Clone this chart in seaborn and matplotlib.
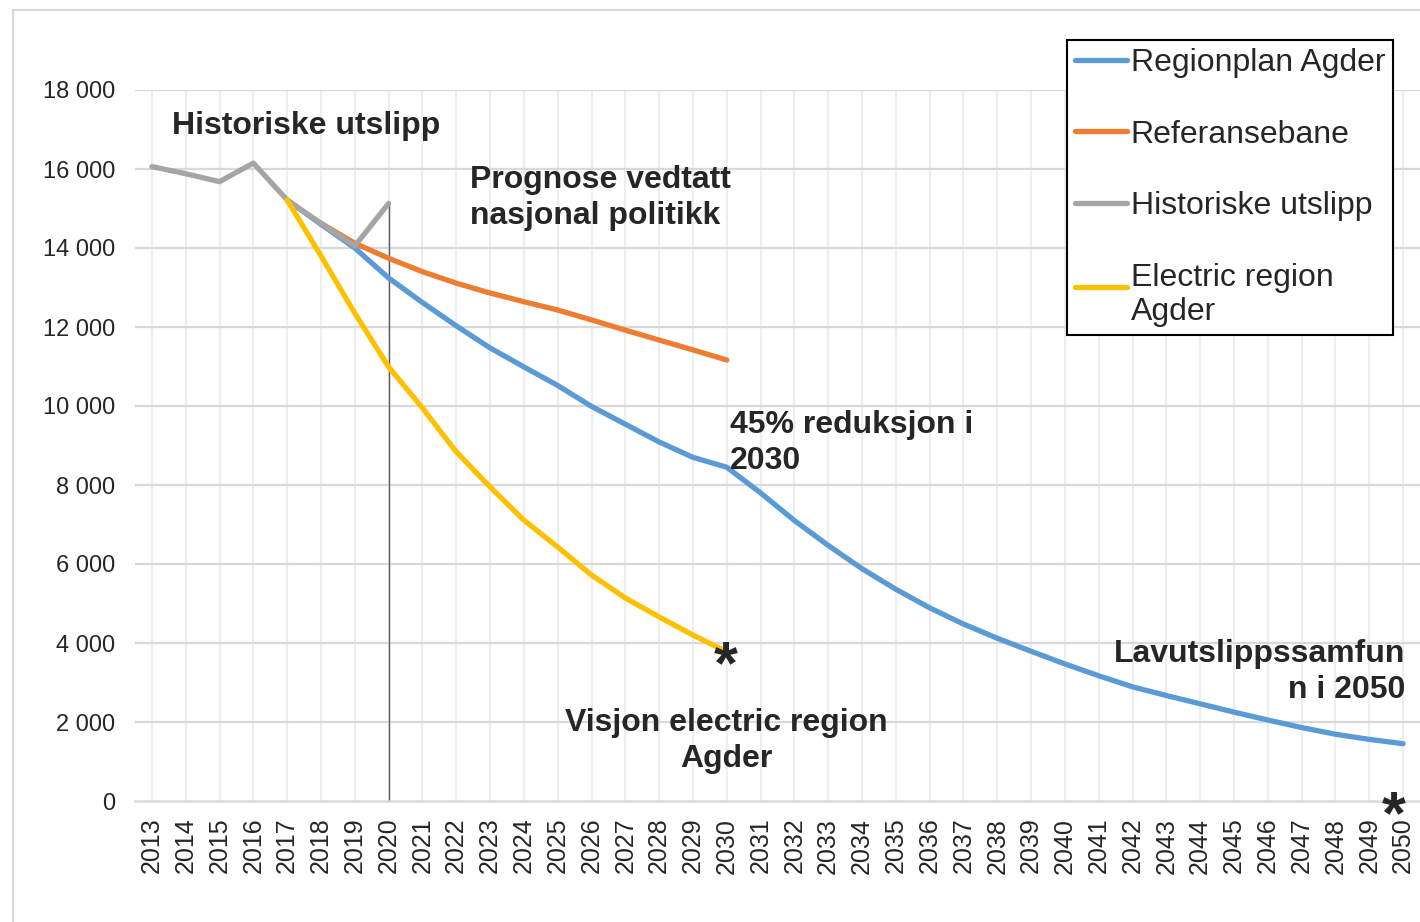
import matplotlib
matplotlib.use("Agg")
import matplotlib.pyplot as plt
from matplotlib.lines import Line2D
from matplotlib.legend_handler import HandlerLine2D
import seaborn as sns
import pandas as pd

# ---------------- data ----------------
years_hist = [2013, 2014, 2015, 2016, 2017, 2018, 2019, 2020]
hist = [16060, 15880, 15680, 16150, 15215, 14625, 14050, 15130]

years_ref = list(range(2018, 2031))
ref = [14625, 14120, 13740, 13400, 13110, 12860, 12640, 12430, 12180, 11920,
       11670, 11420, 11165]

years_plan = list(range(2017, 2051))
plan = [15215, 14600, 14000, 13240, 12620, 12030, 11470, 10990, 10520, 9990,
        9540, 9090, 8700, 8450, 7800, 7100, 6470, 5880, 5360, 4890,
        4480, 4120, 3790, 3470, 3170, 2890, 2670, 2460, 2250, 2050,
        1860, 1690, 1560, 1450]

years_el = list(range(2017, 2031))
electric = [15215, 13800, 12350, 10990, 9950, 8840, 7950, 7110, 6430, 5720,
            5140, 4660, 4200, 3780]

series_names = ["Regionplan Agder", "Referansebane", "Historiske utslipp",
                "Electric region Agder"]
legend_labels = ["Regionplan Agder", "Referansebane", "Historiske utslipp",
                 "Electric region\nAgder"]
colors = ["#5B9BD5", "#ED7D31", "#A5A5A5", "#FFC000"]

all_years = list(range(2013, 2051))
y_ticks = list(range(0, 18001, 2000))
y_ticklabels = [f"{v:,}".replace(",", " ") for v in y_ticks]

# ---------------- figure ----------------
sns.set_style("white")
plt.rcParams["font.family"] = ["Liberation Sans", "DejaVu Sans"]

W, H = 1420, 922
fig = plt.figure(figsize=(W / 100, H / 100), dpi=100)
ax = fig.add_axes([135 / W, 1 - 801 / H, 1285 / W, 711 / H])

df = pd.concat([
    pd.DataFrame({"year": years_plan, "value": plan, "series": series_names[0]}),
    pd.DataFrame({"year": years_ref, "value": ref, "series": series_names[1]}),
    pd.DataFrame({"year": years_hist, "value": hist, "series": series_names[2]}),
    pd.DataFrame({"year": years_el, "value": electric, "series": series_names[3]}),
])

palette = dict(zip(series_names, colors))
for name in series_names:
    sub = df[df["series"] == name]
    sns.lineplot(data=sub, x="year", y="value", color=palette[name],
                 linewidth=3.8, ax=ax, sort=False, legend=False,
                 solid_capstyle="round", solid_joinstyle="round", zorder=3)

# vertical marker line at the last historical year
ax.vlines(years_hist[-1], 0, hist[-1], color="#595959", linewidth=1.0, zorder=2)

ax.set_xlim(2012.5, 2050.5)
ax.set_ylim(0, 18000)
ax.set_xticks(all_years)
ax.set_xticklabels([str(y) for y in all_years], rotation=90, fontsize=18)
ax.set_yticks(y_ticks)
ax.set_yticklabels(y_ticklabels, fontsize=17)
ax.tick_params(axis="both", length=0)
ax.tick_params(axis="x", pad=12)
ax.tick_params(axis="y", pad=14)
ax.set_xlabel("")
ax.set_ylabel("")

# grid
for y in y_ticks[1:]:
    ax.axhline(y, color="#d9d9d9", linewidth=1.6, zorder=1)
for x in all_years:
    ax.axvline(x, color="#eeeeee", linewidth=1.6, zorder=0.5)
for s in ["left", "right", "top"]:
    ax.spines[s].set_visible(False)
ax.spines["bottom"].set_color("#d9d9d9")
ax.spines["bottom"].set_linewidth(1.8)

# annotations
def ftxt(px, py, s, **kw):
    fig.text(px / W, 1 - py / H, s, fontsize=23, fontweight="bold",
             va="center", linespacing=1.27, **kw)

ftxt(172, 126, "Historiske utslipp", ha="left")
ftxt(470, 198, "Prognose vedtatt\nnasjonal politikk", ha="left")
ftxt(730, 443, "45% reduksjon i\n2030", ha="left")
ftxt(726, 741, "Visjon electric region\nAgder", ha="center", multialignment="center")
ftxt(1405, 672, "Lavutslippssamfun\nn i 2050", ha="right", multialignment="right")

# asterisks at target points
ax.annotate("*", xy=(years_el[-1], electric[-1]), xytext=(-1, -16),
            textcoords="offset pixels", ha="center", va="center",
            fontsize=44, fontweight="bold", annotation_clip=False, zorder=5)
ax.annotate("*", xy=(all_years[-1], 0), xytext=(-9, -17),
            textcoords="offset pixels", ha="center", va="center",
            fontsize=44, fontweight="bold", annotation_clip=False, zorder=5)


# legend (handle of the two-line entry sits on its first line)
class ShiftedLine(HandlerLine2D):
    def __init__(self, shift=0.0, **kw):
        super().__init__(**kw)
        self.shift = shift

    def create_artists(self, legend, orig_handle, xdescent, ydescent,
                       width, height, fontsize, trans):
        return super().create_artists(legend, orig_handle, xdescent,
                                      ydescent - self.shift, width, height,
                                      fontsize, trans)


handles = [Line2D([0], [0], color=c, linewidth=3.8, solid_capstyle="round")
           for c in colors]
leg = fig.legend(handles, legend_labels, loc="upper right",
                 bbox_to_anchor=(1393 / W, 1 - 40 / H),
                 bbox_transform=fig.transFigure, fontsize=23, frameon=True,
                 fancybox=False, edgecolor="black", framealpha=1,
                 borderaxespad=0, borderpad=0.25, labelspacing=1.3,
                 handlelength=1.65, handletextpad=0.1,
                 handler_map={handles[3]: ShiftedLine(shift=12.5)})
leg.get_frame().set_linewidth(1.5)

# outer chart border (left and top visible)
fig.add_artist(Line2D([13 / W, 13 / W], [0, 1 - 10 / H], transform=fig.transFigure,
                      color="#d9d9d9", linewidth=1.5))
fig.add_artist(Line2D([13 / W, 1], [1 - 10 / H, 1 - 10 / H], transform=fig.transFigure,
                      color="#d9d9d9", linewidth=1.5))

fig.savefig("out.png", dpi=100, facecolor="white")
